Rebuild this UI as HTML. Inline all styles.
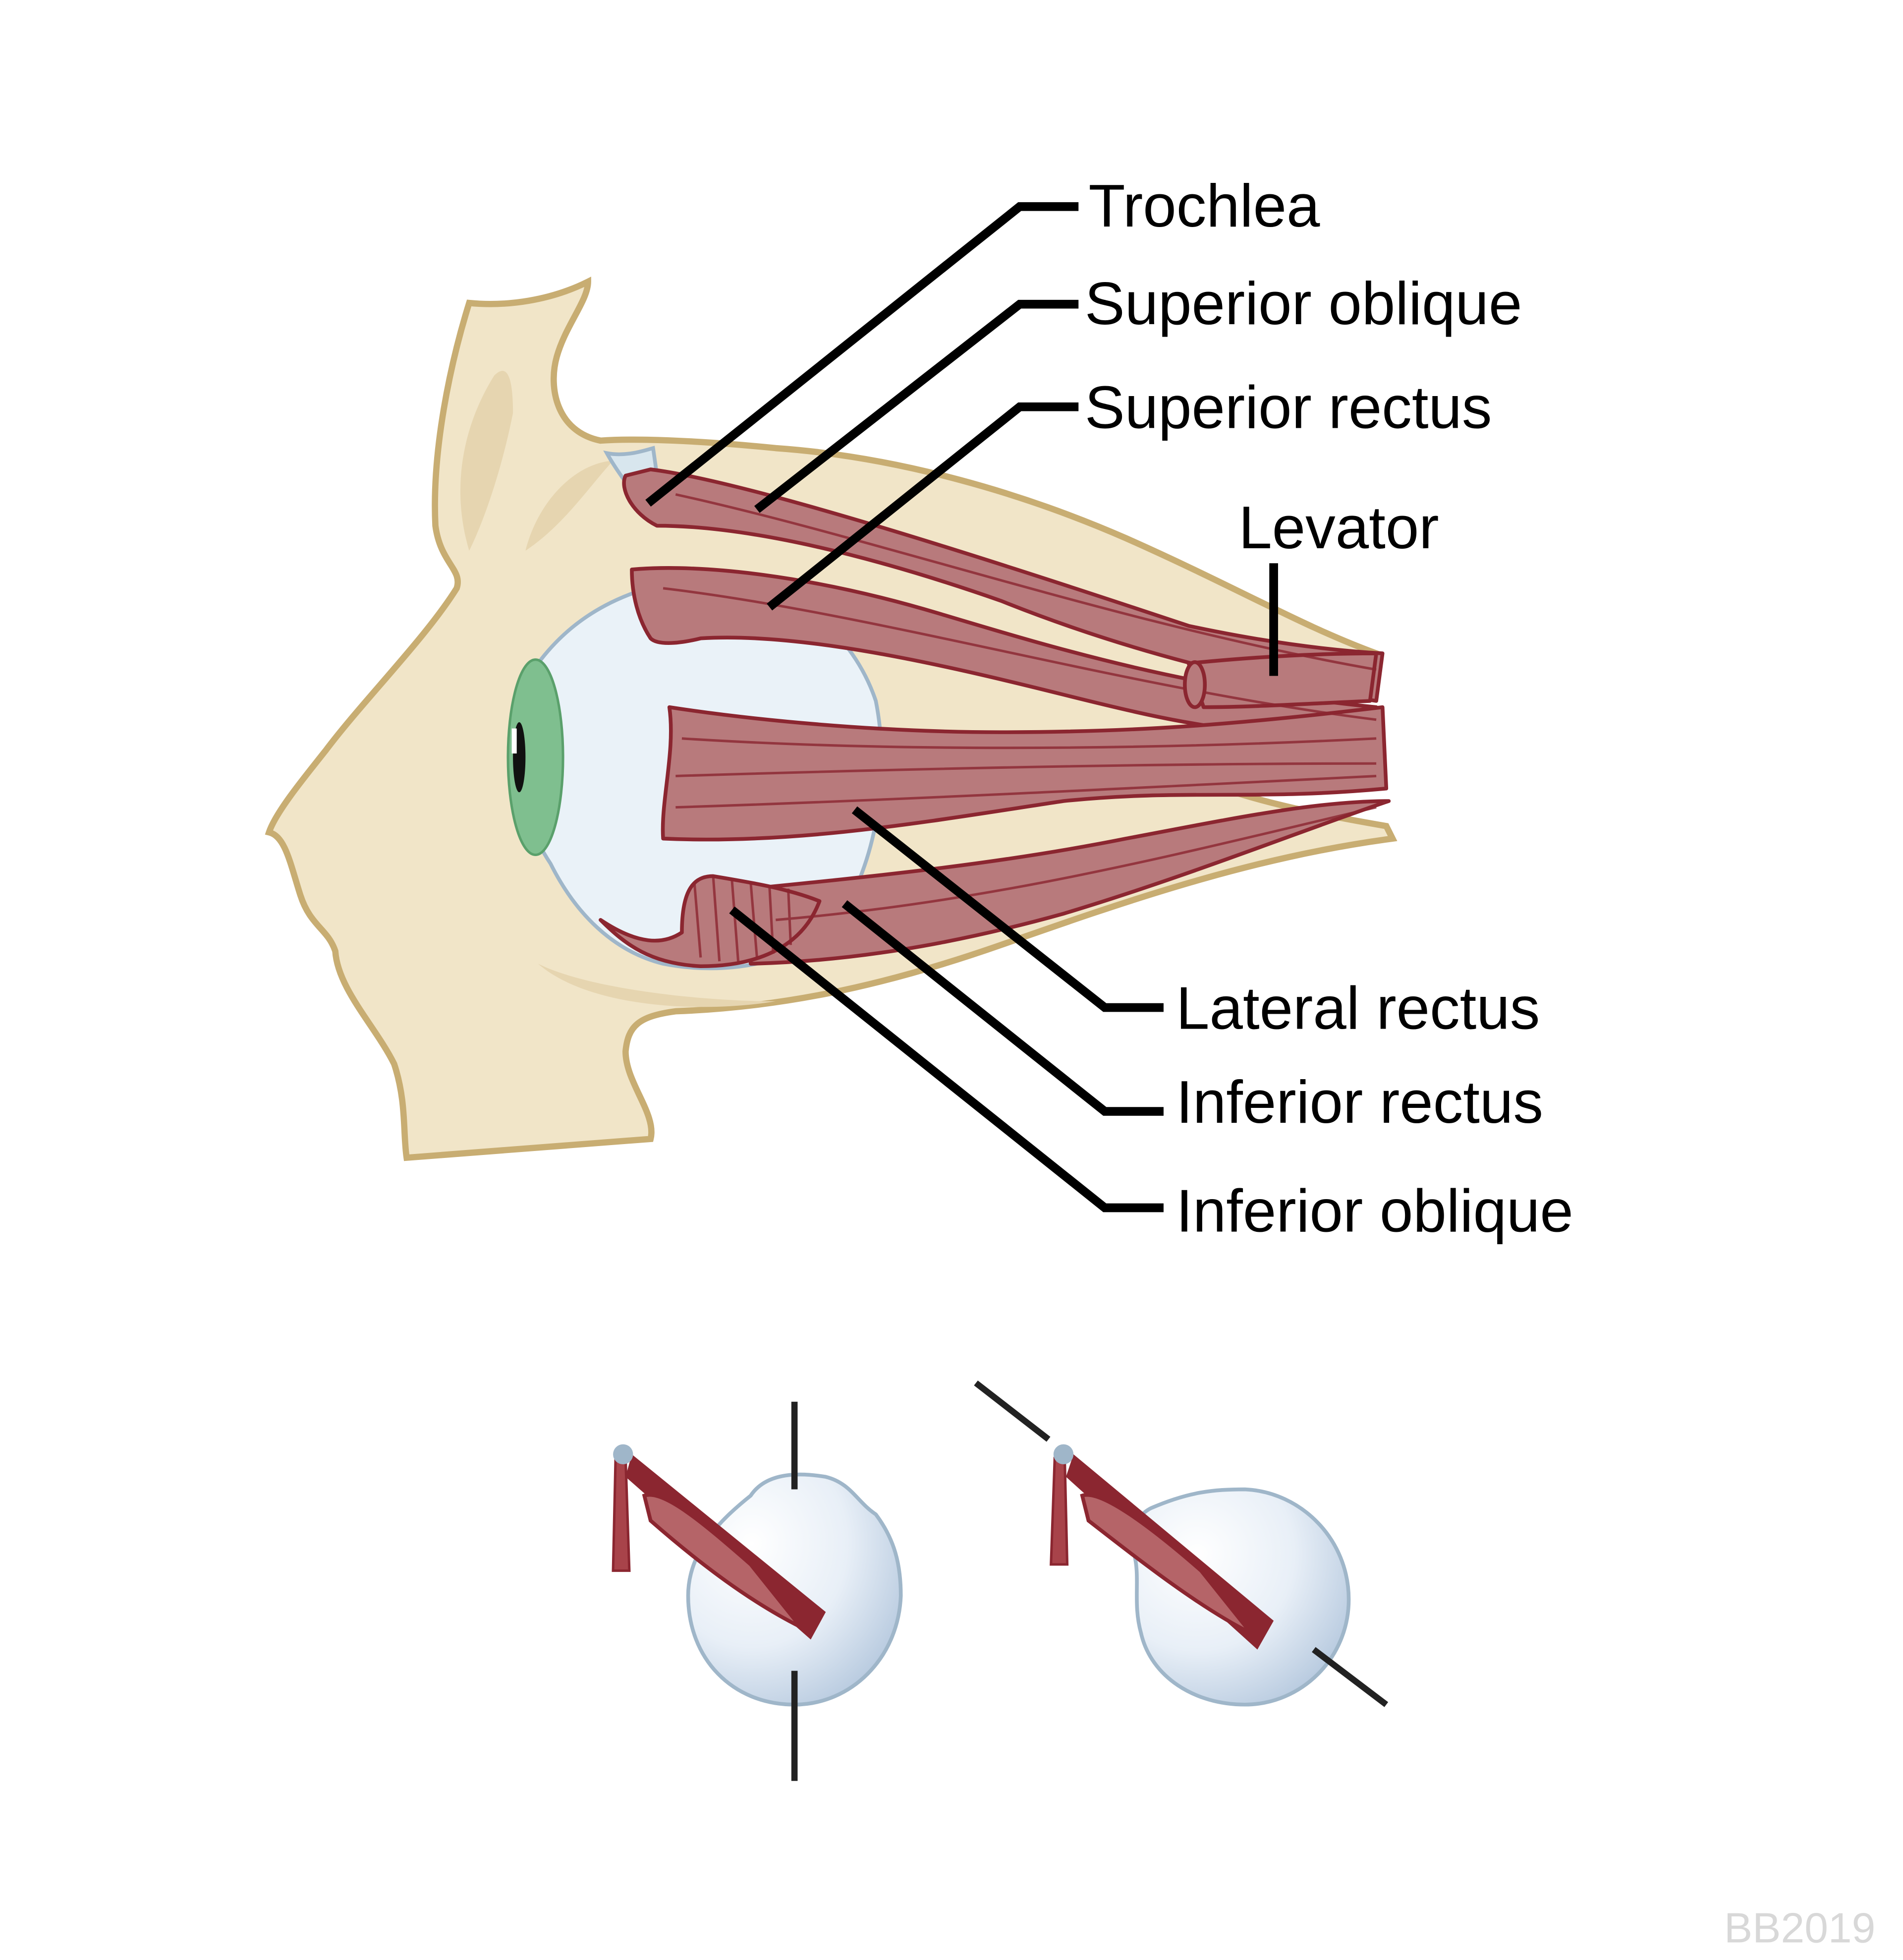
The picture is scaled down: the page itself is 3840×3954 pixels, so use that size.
<!DOCTYPE html>
<html><head><meta charset="utf-8"><style>
html,body{margin:0;padding:0;background:#fff}
svg{display:block}
text{font-family:"Liberation Sans",Arial,sans-serif}
</style></head><body>
<svg width="3840" height="3954" viewBox="0 0 1521 1566" xmlns="http://www.w3.org/2000/svg">
<defs>
<radialGradient id="eg" cx="0.3" cy="0.3" r="0.9">
<stop offset="0" stop-color="#ffffff"/><stop offset="0.5" stop-color="#e8eff7"/><stop offset="1" stop-color="#a9bfd8"/>
</radialGradient>
</defs>
<rect width="1536" height="1582" fill="#fff"/>
<path d="M375,242 C360,290 345,360 348,420 C352,450 370,455 365,470 C340,510 290,560 260,600 C240,625 220,650 215,665 C228,668 232,690 240,715 C248,740 262,742 268,760 C270,790 300,820 315,850 C325,880 322,905 325,925 L520,910 C525,890 500,865 500,840 C502,820 510,812 540,808 C620,805 700,790 800,755 C900,720 1000,685 1113,670 L1108,660 C1050,650 1000,640 950,620 L1100,522 C1040,500 990,470 900,430 C820,395 720,365 620,358 C560,352 510,350 480,352 C445,345 438,310 445,285 C452,260 470,240 470,225 C440,240 405,245 375,242 Z" fill="#f1e5c8" stroke="#c8ad72" stroke-width="5"/>
<path d="M395,300 C370,340 360,390 375,440 C385,420 400,380 410,330 C410,300 405,290 395,300 Z" fill="#e6d5b0"/>
<path d="M420,440 C430,400 460,370 490,368 C470,390 450,420 420,440 Z" fill="#e6d5b0"/>
<path d="M430,770 C470,790 560,800 620,800 C560,810 470,805 430,770 Z" fill="#e6d5b0"/>
<path d="M430,530 C460,490 500,470 560,460 C620,455 680,500 700,560 C712,620 700,690 670,735 C640,770 580,780 530,770 C490,760 460,730 440,690 C420,660 410,620 410,600 C410,570 415,550 430,530 Z" fill="#eaf2f8" stroke="#9fb6c9" stroke-width="3"/>
<ellipse cx="428" cy="605" rx="22" ry="78" fill="#7fbf8f" stroke="#5aa06b" stroke-width="2"/>
<ellipse cx="415" cy="605" rx="5" ry="28" fill="#111"/>
<rect x="409" y="582" width="4" height="20" fill="#fff"/>
<path d="M485,362 C500,365 515,360 522,358 L528,400 C525,420 515,420 512,405 C505,390 495,380 485,362 Z" fill="#d8e6ee" stroke="#9fb6c9" stroke-width="3"/>
<g fill="#b87a7c" stroke="#8b2630" stroke-width="3" stroke-linejoin="round">
<path d="M520,375 C600,385 800,450 950,500 C1020,515 1070,520 1105,522 L1100,560 C1000,545 900,520 800,480 C700,445 600,420 525,420 C505,410 495,390 500,380 Z"/>
<path d="M505,455 C560,450 650,460 750,490 C850,520 950,550 1100,565 L1100,585 C1000,590 950,580 850,555 C750,530 640,505 560,510 C540,515 525,515 520,510 C510,495 505,475 505,455 Z"/>
<path d="M535,565 C600,575 700,585 800,585 C900,585 980,580 1105,565 L1108,630 C1000,640 950,630 850,640 C750,655 640,675 530,670 C528,640 540,600 535,565 Z"/>
<path d="M600,710 C700,700 800,690 900,670 C980,655 1050,640 1110,640 C1050,660 950,700 850,730 C760,755 680,768 600,770 Z"/>
<path d="M950,530 C1000,525 1050,522 1100,522 L1095,560 C1050,562 1000,565 962,565 Z"/>
<path d="M480,735 C500,755 520,770 560,772 C600,772 640,760 655,720 C630,710 600,705 570,700 C555,700 545,710 545,745 C530,755 510,755 480,735 Z"/>
</g>
<g stroke="#8b2630" stroke-width="2" fill="none" opacity="0.8">
<path d="M540,395 C700,430 900,500 1100,535"/><path d="M530,470 C700,490 900,550 1100,575"/>
<path d="M545,590 C700,600 900,600 1100,590"/><path d="M540,620 C700,615 900,610 1100,610"/><path d="M540,645 C700,640 900,630 1100,620"/>
<path d="M620,735 C800,720 950,680 1100,645"/>
<path d="M555,705 L560,765 M570,700 L575,768 M585,703 L590,768 M600,705 L605,765 M615,708 L618,762 M630,710 L632,755"/>
</g>
<ellipse cx="955" cy="547" rx="8" ry="18" fill="#b87a7c" stroke="#8b2630" stroke-width="3"/>
<g stroke="#000" stroke-width="7" fill="none">
<path d="M862,165 L815,165 L518,402"/>
<path d="M862,243 L815,243 L605,407"/>
<path d="M862,325 L815,325 L615,485"/>
<path d="M1018,450 L1018,540"/>
<path d="M930,805 L883,805 L683,647"/>
<path d="M930,888 L883,888 L675,722"/>
<path d="M930,965 L883,965 L585,727"/>
</g>
<g font-size="48" fill="#000">
<text x="870" y="181">Trochlea</text>
<text x="867" y="259">Superior oblique</text>
<text x="867" y="342">Superior rectus</text>
<text x="990" y="438">Levator</text>
<text x="940" y="822">Lateral rectus</text>
<text x="940" y="897">Inferior rectus</text>
<text x="940" y="984">Inferior oblique</text>
</g>
<path d="M600,1195 C610,1180 630,1175 660,1180 C680,1185 685,1200 700,1210 C715,1230 720,1250 720,1275 C718,1325 680,1362 635,1362 C585,1362 550,1325 550,1275 C550,1240 575,1215 600,1195 Z" fill="url(#eg)" stroke="#9fb6c9" stroke-width="3"/>
<path d="M505,1162 L660,1288 L648,1310 L500,1180 Z" fill="#8b2630"/>
<path d="M515,1195 C530,1190 560,1215 600,1250 L640,1300 C600,1280 560,1250 520,1215 Z" fill="#b56468" stroke="#8b2630" stroke-width="3"/>
<path d="M492,1165 L500,1165 L503,1255 L490,1255 Z" fill="#a8434a" stroke="#8b2630" stroke-width="2"/>
<circle cx="498" cy="1162" r="8" fill="#9fb6c9"/>
<g stroke="#222" stroke-width="5"><path d="M635,1120 L635,1190"/><path d="M635,1335 L635,1423"/></g>
<path d="M920,1205 C950,1192 970,1190 995,1190 C1040,1192 1078,1230 1078,1278 C1078,1325 1040,1362 995,1362 C955,1362 920,1340 912,1305 C905,1280 912,1260 906,1240 C902,1222 910,1210 920,1205 Z" fill="url(#eg)" stroke="#9fb6c9" stroke-width="3"/>
<path d="M858,1162 L1018,1295 L1005,1318 L852,1180 Z" fill="#8b2630"/>
<path d="M865,1195 C880,1190 920,1220 960,1255 L1000,1305 C960,1285 915,1250 870,1215 Z" fill="#b56468" stroke="#8b2630" stroke-width="3"/>
<path d="M843,1165 L851,1165 L853,1250 L840,1250 Z" fill="#a8434a" stroke="#8b2630" stroke-width="2"/>
<circle cx="850" cy="1162" r="8" fill="#9fb6c9"/>
<g stroke="#222" stroke-width="5"><path d="M780,1105 L838,1150"/><path d="M1050,1318 L1108,1362"/></g>
<text x="1378" y="1552" font-size="34" fill="#d8d8d8">BB2019</text>
</svg>
</body></html>
